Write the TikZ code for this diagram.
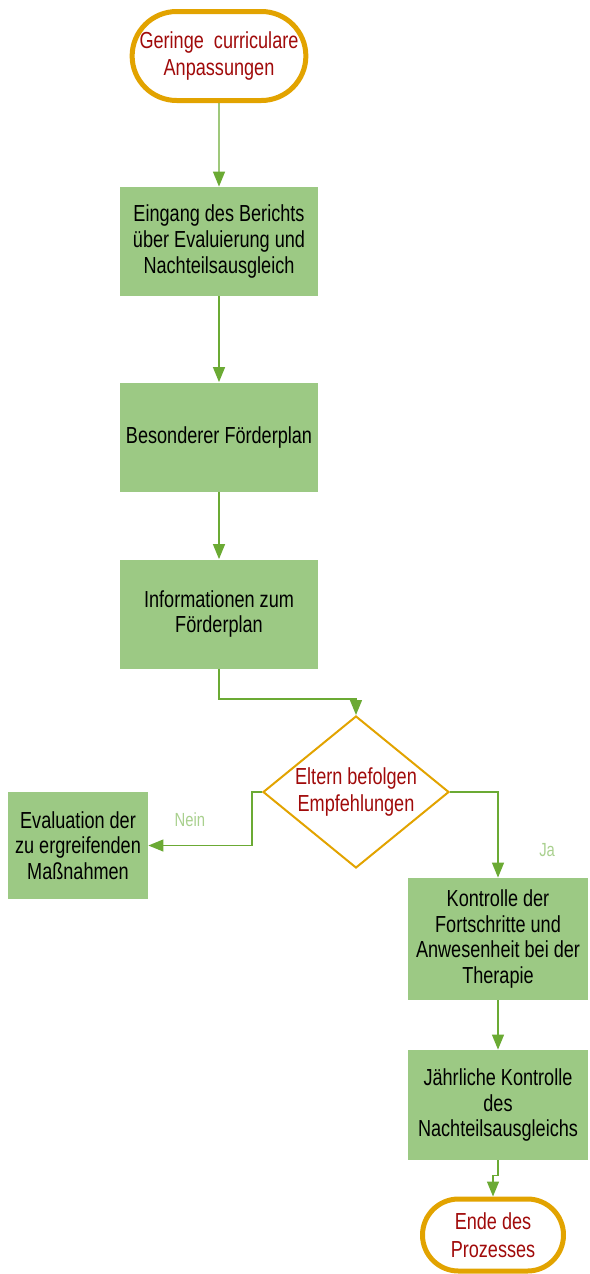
\documentclass[tikz,border=0pt]{standalone}
\usepackage{fontspec}
\setmainfont{Liberation Sans}[FakeStretch=0.78]
\usetikzlibrary{arrows.meta}
\usetikzlibrary{shapes.geometric,shapes.misc}
\definecolor{boxgreen}{HTML}{9CC984}
\definecolor{termorange}{HTML}{E2A300}
\definecolor{termred}{HTML}{A00A0A}
\definecolor{linegreen}{HTML}{6BAA34}
\definecolor{lblgreen}{HTML}{A9D08E}
\tikzstyle{proc}=[fill=boxgreen, inner sep=0pt, minimum width=99pt, minimum height=54.5pt, align=center, font=\fontsize{11.6}{12.8}\selectfont]
\tikzstyle{term}=[rounded rectangle, draw=termorange, line width=2.5pt, inner sep=0pt, align=center, text=termred, font=\fontsize{11.6}{13.8}\selectfont]
\tikzstyle{dec}=[diamond, draw=termorange, line width=1pt, inner sep=0pt, minimum width=93pt, minimum height=76pt]
\tikzstyle{dectext}=[text=termred, align=center, font=\fontsize{11.6}{13.6}\selectfont]
\tikzstyle{lbl}=[text=lblgreen, font=\fontsize{9.5}{11}\selectfont]

\begin{document}
\begin{tikzpicture}[x=0.5pt,y=-0.5pt,node distance=90pt,>={Triangle[width=6pt,length=7.5pt]}]
    \useasboundingbox (0,0) rectangle (589,1274);
    \node [term, minimum width=84.5pt, minimum height=44.5pt] (start) at (219,56) {Geringe\hspace{2.5pt} curriculare\\Anpassungen};
    \node [proc] (eingang) [below of=start, node distance=92.75pt] {Eingang des Berichts\\über Evaluierung und\\Nachteilsausgleich};
    \node [proc] (plan) [below of=eingang, node distance=97.75pt] {Besonderer Förderplan};
    \node [proc] (info) [below of=plan, node distance=88.5pt] {Informationen zum\\Förderplan};
    \node [dec, label={[dectext]center:Eltern befolgen\\Empfehlungen}] (eltern) [below of=info, node distance=89pt, xshift=68.5pt] {};
    \node [proc, minimum width=70pt, minimum height=53.5pt] (eval) [left of=eltern, node distance=139pt, yshift=-26.75pt] {Evaluation der\\zu ergreifenden\\Maßnahmen};
    \node [proc, minimum width=90pt, minimum height=61pt] (kontrolle) [below of=eltern, node distance=73.5pt, xshift=71pt] {Kontrolle der\\Fortschritte und\\Anwesenheit bei der\\Therapie};
    \node [proc, minimum width=90pt, minimum height=55pt] (jaehrlich) [below of=kontrolle, node distance=83pt] {Jährliche Kontrolle\\des\\Nachteilsausgleichs};
    \node [term, minimum width=70.5pt, minimum height=36pt] (ende) [below of=jaehrlich, node distance=65pt, xshift=-2.5pt] {Ende des\\Prozesses};

    \begin{scope}[draw=linegreen, line width=0.65pt, fill=linegreen]
    \draw[->] (start) -- (eingang);
    \draw[->] (eingang) -- (plan);
    \draw[->] (plan) -- (info);
    \draw[->] (info.south) -- ++(0,-15pt) -| (eltern.north);
    \draw[->] (eltern.west) -- ++(-5pt,0) |- node[lbl, pos=0.8, above=6pt] {Nein} (eval.east);
    \draw[->] (eltern.east) -| node[lbl, pos=0.84, right=17pt] {Ja} (kontrolle.north);
    \draw[->] (kontrolle) -- (jaehrlich);
    \draw[->] (jaehrlich.south) -- ++(0,-7.5pt) -| (ende.north);
    \end{scope}
\end{tikzpicture}
\end{document}
